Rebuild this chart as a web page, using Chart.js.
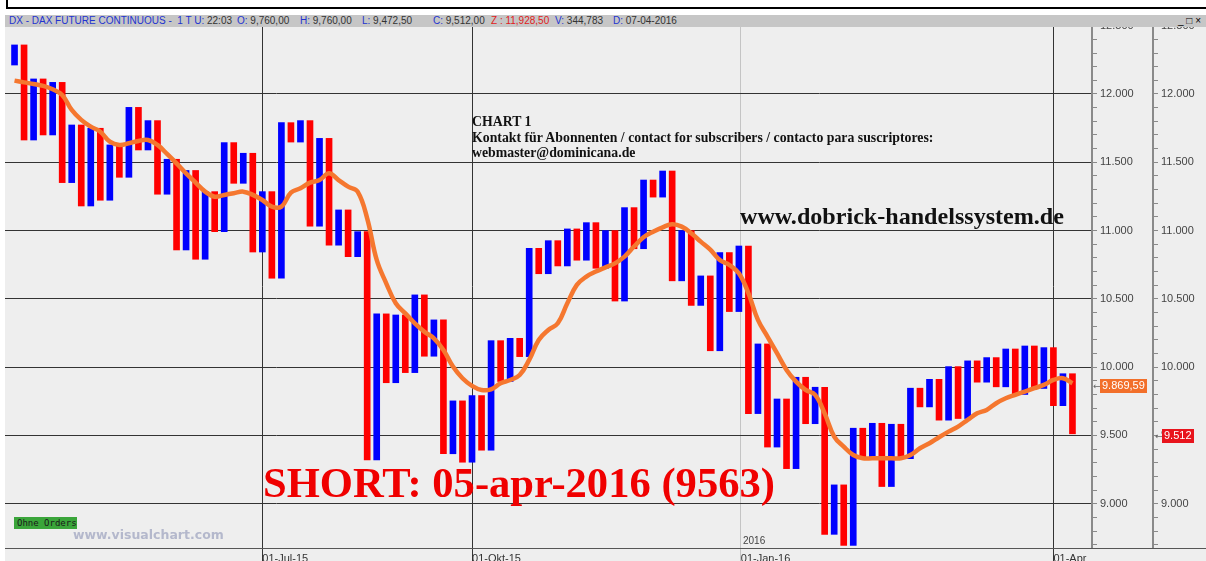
<!DOCTYPE html>
<html lang="de">
<head>
  <meta charset="UTF-8">
  <title>DX - DAX FUTURE CONTINUOUS</title>
  <script src="https://cdn.jsdelivr.net/npm/chart.js"></script>
  <style>
    html, body { margin: 0; padding: 0; background: #fff; overflow: hidden; }
    #wrap { position: relative; width: 1206px; height: 561px; overflow: hidden; }
    #plotBg { position: absolute; left: 5px; top: 27px; width: 1201px; height: 534px; background: #eeeeee; }
    #baseLine { position: absolute; left: 5px; top: 548px; width: 1201px; height: 1px; background: #555; }
    #frame { position: absolute; left: 6px; top: -10px; width: 1210px; height: 15px; border: 2px solid #000; }
    #header { position: absolute; left: 5px; top: 15px; width: 1201px; height: 12px; background: #c6c6c6;
              font: 10px "Liberation Sans", Arial, sans-serif; color: #333; }
    #header span { position: absolute; top: 0; line-height: 12px; white-space: pre; }
    #header .b { color: #2233d0; }
    #header .r { color: #e02020; }
    canvas { position: absolute; left: 0; top: 0; }
    .txt { position: absolute; white-space: nowrap; }
    #chart1 { left: 472px; top: 114px; font: bold 13.8px "Liberation Serif", "Times New Roman", serif; line-height: 15.5px; color: #111; }
    #dobrick { left: 740px; top: 204px; font: bold 24.1px "Liberation Serif", "Times New Roman", serif; line-height: 24px; color: #111; }
    #short { left: 263px; top: 462px; font: bold 42.6px "Liberation Serif", "Times New Roman", serif; line-height: 42px; color: #f00000; }
    #visual { left: 73px; top: 528px; font: bold 12.5px "DejaVu Sans", Verdana, sans-serif; line-height: 13px; color: #b4b8cc; }
    #orders { left: 14px; top: 517px; width: 60px; height: 12px; padding-left: 3px; background: #3aa53a;
              font: 9px "DejaVu Sans Mono", monospace; line-height: 12px; color: #1a1a1a; }
    #year { left: 743px; top: 535px; font: 10px "Liberation Sans", Arial, sans-serif; line-height: 11px; color: #444; }
    .price { position: absolute; height: 14px; line-height: 14px; padding: 0 2px; color: #fff;
             font: 11px "Liberation Sans", Arial, sans-serif; }
    .arrow { position: absolute; font: 9px "DejaVu Sans", sans-serif; color: #666; line-height: 14px; }
  </style>
</head>
<body>
<div id="wrap">
  <div id="plotBg"></div>
  <div id="frame"></div>
  <canvas id="chartCanvas" width="1206" height="561"></canvas>
  <div id="baseLine"></div>
  <div id="header">
    <span style="left:4px"><span class="b" style="position:static">DX - DAX FUTURE CONTINUOUS -  1 T U:</span> 22:03</span>
    <span style="left:232px"><span class="b" style="position:static">O:</span> 9,760,00</span>
    <span style="left:295px"><span class="b" style="position:static">H:</span> 9,760,00</span>
    <span style="left:357px"><span class="b" style="position:static">L:</span> 9,472,50</span>
    <span style="left:428px"><span class="b" style="position:static">C:</span> 9,512,00</span>
    <span style="left:486px" class="r">Z : 11,928,50</span>
    <span style="left:550px"><span class="b" style="position:static">V:</span> 344,783</span>
    <span style="left:608px"><span class="b" style="position:static">D:</span> 07-04-2016</span>
    <span style="left:1173px;color:#000">_ □ ×</span>
  </div>
  <div class="txt" id="chart1">CHART 1<br>Kontakt für Abonnenten / contact for subscribers / contacto para suscriptores:<br>webmaster@dominicana.de</div>
  <div class="txt" id="dobrick">www.dobrick-handelssystem.de</div>
  <div class="txt" id="short">SHORT: 05-apr-2016 (9563)</div>
  <div class="txt" id="orders">Ohne Orders</div>
  <div class="txt" id="visual">www.visualchart.com</div>
  <div class="txt" id="year">2016</div>
  <div class="arrow" style="left:1093px;top:379px">←</div>
  <div class="price" style="left:1100px;top:379px;background:#f26f2a">9.869,59</div>
  <div class="arrow" style="left:1155px;top:429px">←</div>
  <div class="price" style="left:1162px;top:429px;background:#e8141c">9.512</div>
</div>

<script>
  // Balken: jeweils oberes und unteres Ende (blau = aufwaerts, rot = abwaerts, abwechselnd)
  const barHigh = [
    12359, 12359, 12110, 12110, 12085, 12085, 11773, 11773, 11749, 11749,
    11627, 11627, 11902, 11902, 11805, 11805, 11522, 11522, 11440, 11440,
    11285, 11285, 11644, 11644, 11566, 11566, 11285, 11285, 11790, 11790,
    11805, 11805, 11675, 11675, 11151, 11151, 10992, 10992, 10390, 10390,
    10382, 10382, 10529, 10529, 10346, 10346, 9753, 9753, 9792, 9792,
    10194, 10194, 10211, 10211, 10870, 10870, 10926, 10926, 11012, 11012,
    11058, 11058, 11000, 11000, 11168, 11168, 11370, 11370, 11436, 11436,
    11000, 11000, 10668, 10668, 10839, 10839, 10887, 10887, 10170, 10170,
    9767, 9767, 9926, 9926, 9853, 9853, 9138, 9138, 9553, 9553,
    9589, 9589, 9582, 9582, 9846, 9846, 9911, 9911, 10004, 10004,
    10046, 10046, 10070, 10070, 10133, 10133, 10155, 10155, 10143, 10143,
    9952, 9952
  ];
  const barLow = [
    12212, 11663, 11663, 11700, 11700, 11351, 11351, 11180, 11180, 11222,
    11222, 11390, 11390, 11590, 11590, 11266, 11266, 10858, 10858, 10790,
    10790, 10992, 10992, 11346, 11346, 10843, 10843, 10651, 10651, 11648,
    11648, 11032, 11032, 10893, 10893, 10809, 10809, 9321, 9321, 9886,
    9886, 9960, 9960, 10080, 10080, 9366, 9366, 9304, 9304, 9392,
    9392, 9895, 9895, 10077, 10077, 10684, 10684, 10741, 10741, 10783,
    10783, 10724, 10724, 10484, 10484, 10867, 10867, 11245, 11245, 10632,
    10632, 10452, 10452, 10120, 10120, 10407, 10407, 9660, 9660, 9415,
    9415, 9257, 9257, 9586, 9586, 8776, 8776, 8695, 8695, 9337,
    9337, 9126, 9126, 9330, 9330, 9709, 9709, 9612, 9612, 9624,
    9624, 9890, 9890, 9856, 9856, 9800, 9800, 9844, 9844, 9718,
    9718, 9512
  ];
  // gleitender Durchschnitt (orange)
  const avgLine = [
    12098, 12085, 12073, 12059, 12034, 11993, 11883, 11810, 11761, 11724,
    11651, 11627, 11639, 11656, 11663, 11627, 11561, 11492, 11419, 11351,
    11285, 11248, 11261, 11273, 11285, 11261, 11224, 11175, 11175, 11278,
    11309, 11351, 11370, 11419, 11370, 11322, 11285, 11090, 10785, 10614,
    10468, 10394, 10321, 10260, 10211, 10126, 10004, 9919, 9863, 9833,
    9838, 9882, 9906, 9943, 10053, 10199, 10272, 10321, 10468, 10602,
    10663, 10700, 10731, 10760, 10809, 10883, 10951, 10992, 11024, 11046,
    11029, 10980, 10919, 10860, 10785, 10748, 10687, 10541, 10346, 10224,
    10102, 9980, 9894, 9833, 9797, 9662, 9492, 9418, 9357, 9333,
    9333, 9333, 9333, 9333, 9357, 9406, 9443, 9487, 9528, 9565,
    9614, 9662, 9687, 9736, 9772, 9797, 9821, 9846, 9870, 9906,
    9919, 9882
  ];
  // Datumsmarken auf der Zeitachse (Balkenposition)
  const dateTickPos = [26, 48, 76.2, 109];
  const dateTickText = ["01-Jul-15", "01-Okt-15", "01-Jan-16", "01-Apr"];

  const priceTicks = [];
  for (let v = 8700; v <= 12500; v += 100) priceTicks.push({ value: v });

  const priceLabel = v => v % 500 === 0 ? (v / 1000).toFixed(3) : "";

  const ctx = document.getElementById("chartCanvas").getContext("2d");
  new Chart(ctx, {
    type: "bar",
    data: {
      datasets: [
        {
          type: "line",
          label: "Durchschnitt",
          data: avgLine.map((v, i) => ({ x: i, y: v })),
          borderColor: "#f5772f",
          borderWidth: 4.5,
          pointRadius: 0,
          tension: 0.4,
          order: 0
        },
        {
          type: "bar",
          label: "DX",
          data: barHigh.map((h, i) => ({ x: i, y: [barLow[i], h] })),
          backgroundColor: barHigh.map((h, i) => i % 2 ? "#ff0000" : "#0000ff"),
          barThickness: 6,
          order: 1
        }
      ]
    },
    options: {
      responsive: false,
      animation: false,
      events: [],
      layout: { padding: { left: 5, top: 25, right: 0, bottom: 0 } },
      plugins: { legend: { display: false }, tooltip: { enabled: false } },
      scales: {
        x: {
          type: "linear",
          min: -1,
          max: 113.05,
          offset: false,
          afterBuildTicks: s => { s.ticks = dateTickPos.map(v => ({ value: v })); },
          afterFit: s => { s.height = 13; },
          border: { display: false },
          grid: {
            offset: false,
            color: c => c.index === 2 ? "#c4c4c4" : "#333333",
            tickColor: c => c.index === 2 ? "#c4c4c4" : "#333333",
            tickLength: 13,
            lineWidth: 1
          },
          ticks: {
            autoSkip: false,
            maxRotation: 0,
            align: "start",
            padding: -9,
            color: "#333",
            font: { family: "'Liberation Sans', Arial, sans-serif", size: 11 },
            callback: (v, i) => dateTickText[i]
          }
        },
        y: {
          position: "right",
          min: 8676,
          max: 12505,
          beginAtZero: false,
          afterBuildTicks: s => { s.ticks = priceTicks.map(t => ({ value: t.value })); },
          afterFit: s => { s.width = 61; },
          border: { color: "#8a8a8a", width: 2 },
          grid: {
            color: c => c.tick && c.tick.value % 500 === 0 ? "#333333" : "rgba(0,0,0,0)",
            tickColor: "#8a8a8a",
            tickLength: 5
          },
          ticks: {
            autoSkip: false,
            padding: 3,
            color: "#444",
            font: { family: "'Liberation Sans', Arial, sans-serif", size: 11 },
            callback: priceLabel
          }
        },
        y2: {
          position: "right",
          min: 8676,
          max: 12505,
          afterBuildTicks: s => { s.ticks = priceTicks.map(t => ({ value: t.value })); },
          afterFit: s => { s.width = 53; },
          border: { color: "#8a8a8a", width: 2 },
          grid: { drawOnChartArea: false, tickColor: "#8a8a8a", tickLength: 5 },
          ticks: {
            autoSkip: false,
            padding: 3,
            color: "#444",
            font: { family: "'Liberation Sans', Arial, sans-serif", size: 11 },
            callback: priceLabel
          }
        }
      }
    }
  });
</script>
</body>
</html>
